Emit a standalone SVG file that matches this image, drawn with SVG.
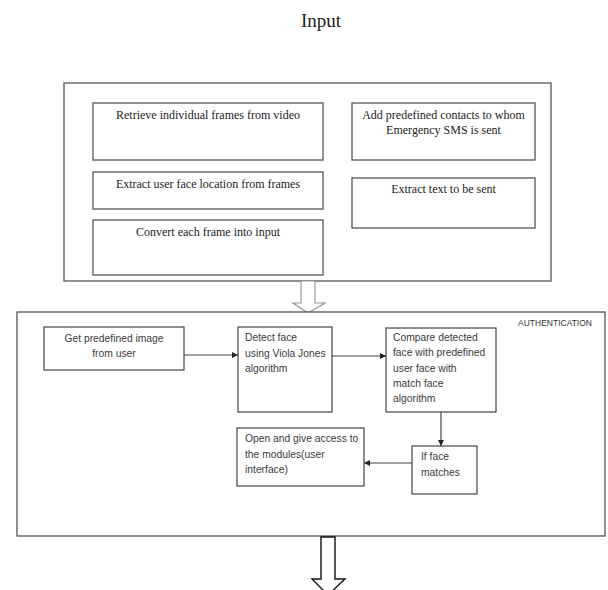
<svg xmlns="http://www.w3.org/2000/svg" width="608" height="590" viewBox="0 0 608 590">
<style>
.bg{fill:#fff}
.frame{fill:#fff;stroke:#555;stroke-width:1.3}
.ibox{fill:#fff;stroke:#555;stroke-width:1.3}
.abox{fill:#fff;stroke:#444;stroke-width:1.2}
.serif{font-family:"Liberation Serif","Times New Roman",serif;fill:#222}
.sans{font-family:"Liberation Sans",Arial,sans-serif;font-size:10.3px;fill:#3a3a3a}
.conn{stroke:#444;stroke-width:1.2;fill:none;marker-end:url(#ah)}
</style>
<defs>
<marker id="ah" viewBox="0 0 6 6" refX="6" refY="3" markerWidth="6" markerHeight="6" markerUnits="userSpaceOnUse" orient="auto">
<path d="M0,0 L6,3 L0,6 z" fill="#222"/>
</marker>
</defs>
<rect class="bg" x="0" y="0" width="608" height="590"/>
<text class="serif" x="321" y="27" font-size="19" text-anchor="middle">Input</text>

<g id="input-frame">
<rect class="frame" x="64" y="83" width="487" height="198"/>
</g>
<g id="n-retrieve">
<rect class="ibox" x="93" y="103" width="230" height="57"/>
<text class="serif" x="208" y="119" font-size="12" text-anchor="middle">Retrieve individual frames from video</text>
</g>
<g id="n-extract-face">
<rect class="ibox" x="93" y="172" width="230" height="37"/>
<text class="serif" x="208" y="188" font-size="12" text-anchor="middle">Extract user face location from frames</text>
</g>
<g id="n-convert">
<rect class="ibox" x="93" y="220" width="230" height="55"/>
<text class="serif" x="208" y="236" font-size="12" text-anchor="middle">Convert each frame into input</text>
</g>
<g id="n-contacts">
<rect class="ibox" x="352" y="103" width="183" height="57"/>
<text class="serif" x="443.5" y="119" font-size="12" text-anchor="middle">Add predefined contacts to whom</text>
<text class="serif" x="443.5" y="134" font-size="12" text-anchor="middle">Emergency SMS is sent</text>
</g>
<g id="n-extract-text">
<rect class="ibox" x="352" y="178" width="183" height="50"/>
<text class="serif" x="443.5" y="193" font-size="12" text-anchor="middle">Extract text to be sent</text>
</g>

<g id="arrow-down-1">
<polygon points="301,281 315,281 315,303 325,303 308,313 293,303 301,303" fill="#fff" stroke="#999" stroke-width="1.2"/>
</g>

<g id="auth-frame">
<rect class="frame" x="17" y="312" width="588" height="224" stroke="#666"/>
<text x="518" y="326" font-family="Liberation Sans,Arial,sans-serif" font-size="8.5" fill="#333">AUTHENTICATION</text>
</g>
<g id="n-get-image">
<rect class="abox" x="44" y="327" width="140" height="43"/>
<text class="sans" x="114" y="342" text-anchor="middle">Get predefined image</text>
<text class="sans" x="114" y="357" text-anchor="middle">from user</text>
</g>
<g id="n-detect">
<rect class="abox" x="238" y="327" width="94" height="85"/>
<text class="sans" x="245" y="341">Detect face</text>
<text class="sans" x="245" y="357">using Viola Jones</text>
<text class="sans" x="245" y="372">algorithm</text>
</g>
<g id="n-compare">
<rect class="abox" x="386" y="328" width="110" height="84"/>
<text class="sans" x="393" y="341">Compare detected</text>
<text class="sans" x="393" y="356">face with predefined</text>
<text class="sans" x="393" y="372">user face with</text>
<text class="sans" x="393" y="387">match face</text>
<text class="sans" x="393" y="402">algorithm</text>
</g>
<g id="n-ifmatch">
<rect class="abox" x="412" y="446" width="65" height="48"/>
<text class="sans" x="421" y="460">If face</text>
<text class="sans" x="421" y="476">matches</text>
</g>
<g id="n-open">
<rect class="abox" x="237" y="428" width="127" height="58"/>
<text class="sans" x="245" y="442">Open and give access to</text>
<text class="sans" x="245" y="458">the modules(user</text>
<text class="sans" x="245" y="473">interface)</text>
</g>

<g id="connectors">
<line class="conn" x1="184" y1="355" x2="238" y2="355"/>
<line class="conn" x1="332" y1="356" x2="386" y2="356"/>
<line class="conn" x1="441" y1="412" x2="441" y2="446"/>
<line class="conn" x1="412" y1="463" x2="364" y2="463"/>
</g>

<g id="arrow-down-2">
<polygon points="321,537 335,537 335,579 345,579 328,595 312,579 321,579" fill="#fff" stroke="#111" stroke-width="1.4"/>
</g>
</svg>
